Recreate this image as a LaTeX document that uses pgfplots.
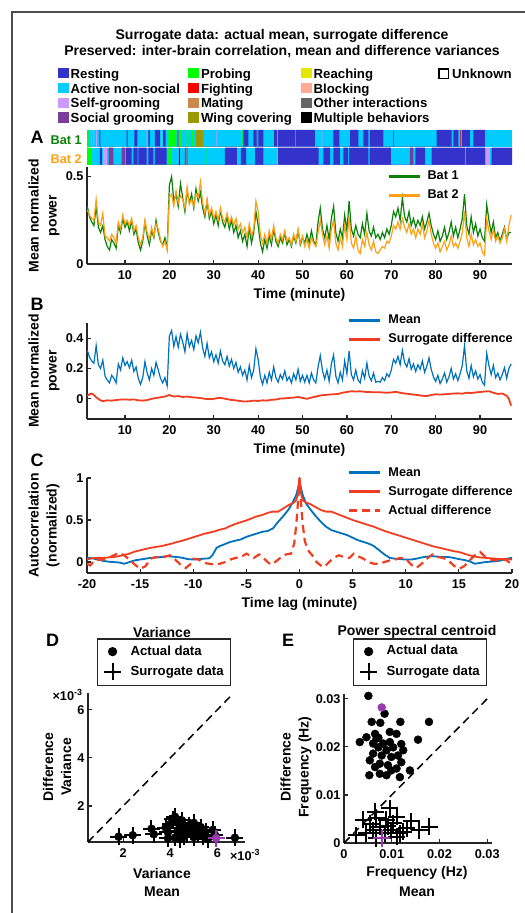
\documentclass[border=0pt]{standalone}
\usepackage{pgfplots}
\pgfplotsset{compat=1.18}
\usepackage{pgfplotstable}
\usepackage{fontspec}
\setmainfont{Liberation Sans}

\definecolor{resting}{RGB}{51,51,204}
\definecolor{activens}{RGB}{0,204,255}
\definecolor{selfgroom}{RGB}{204,153,255}
\definecolor{socialgroom}{RGB}{122,61,153}
\definecolor{probing}{RGB}{0,255,0}
\definecolor{fighting}{RGB}{255,0,0}
\definecolor{mating}{RGB}{204,136,77}
\definecolor{wingcov}{RGB}{153,153,0}
\definecolor{reaching}{RGB}{230,230,0}
\definecolor{blocking}{RGB}{255,170,150}
\definecolor{otherint}{RGB}{102,102,102}
\definecolor{batgreen}{RGB}{10,130,10}
\definecolor{batorange}{RGB}{255,160,20}
\definecolor{meanblue}{RGB}{0,114,189}
\definecolor{surred}{RGB}{242,62,32}
\definecolor{purp}{RGB}{150,60,175}

\newcommand\ftitle{\bfseries\fontsize{14bp}{17bp}\selectfont}
\newcommand\flab{\bfseries\fontsize{14bp}{18bp}\selectfont}
\newcommand\fleg{\bfseries\fontsize{12.7bp}{15bp}\selectfont}
\newcommand\fbeh{\bfseries\fontsize{13.2bp}{15bp}\selectfont}
\newcommand\ftick{\bfseries\fontsize{12.7bp}{15bp}\selectfont}
\newcommand\fletter{\bfseries\fontsize{18bp}{20bp}\selectfont}

\pgfplotsset{
  mstyle/.style={
    scale only axis,
    axis x line*=bottom, axis y line*=left,
    axis line style={line width=1.5bp, black!85, -},
    tick style={line width=1.2bp, black!85},
    major tick length=4bp,
    tick align=inside,
    tick label style={font=\ftick},
    /pgf/number format/assume math mode=true,
    xticklabel style={yshift=-3bp},
    scaled ticks=false,
  },
  lineleg/.style={
    legend style={draw=none, fill=none, inner sep=0pt, outer sep=0pt, row sep=4.2bp, column sep=5bp,
      nodes={inner sep=1.5bp, text height=9.2bp, text depth=2.6bp, font=\fleg}},
    legend cell align=left,
    legend image code/.code={\draw[##1,line width=3bp] (0bp,0bp) -- (31bp,0bp);},
  },
  markleg/.style={
    legend style={draw=black!85, line width=1.2bp, fill=white, inner sep=5bp, row sep=4.2bp, column sep=4.5bp,
      nodes={inner sep=1.5bp, text height=9.4bp, text depth=2.7bp, font=\fbeh}},
    legend cell align=left,
    legend image code/.code={\path[draw=none,fill=none] (0bp,-5bp) rectangle (22bp,5bp); \draw[##1] plot coordinates {(10bp,0bp)};},
  },
  plusmk/.style={only marks, mark=+, mark size=8.5bp, mark options={line width=2bp}},
  dotmk/.style={only marks, mark=*, mark size=4bp},
}

\pgfplotstableread{
t b1 b2 m
1.5 0.33 0.31 0.32
2.0 0.27 0.28 0.275
2.5 0.24 0.26 0.25
3.0 0.22 0.25 0.235
3.5 0.33 0.37 0.35
4.0 0.21 0.24 0.225
4.5 0.18 0.22 0.20
5.0 0.22 0.29 0.255
5.5 0.14 0.16 0.15
6.0 0.10 0.15 0.125
6.5 0.08 0.13 0.105
7.0 0.14 0.17 0.155
7.5 0.12 0.15 0.135
8.0 0.09 0.12 0.105
8.5 0.22 0.24 0.23
9.0 0.18 0.20 0.19
9.5 0.26 0.28 0.27
10.0 0.21 0.23 0.22
10.5 0.24 0.25 0.245
11.0 0.19 0.22 0.205
11.5 0.25 0.26 0.255
12.0 0.17 0.19 0.18
12.5 0.20 0.22 0.21
13.0 0.12 0.15 0.135
13.5 0.08 0.11 0.095
14.0 0.13 0.15 0.14
14.5 0.24 0.25 0.245
15.0 0.16 0.18 0.17
15.5 0.11 0.14 0.125
16.0 0.19 0.21 0.20
16.5 0.15 0.16 0.155
17.0 0.25 0.23 0.24
17.5 0.18 0.20 0.19
18.0 0.13 0.14 0.135
18.5 0.11 0.10 0.105
19.0 0.15 0.13 0.14
19.5 0.09 0.08 0.085
20.0 0.45 0.38 0.415
20.5 0.50 0.40 0.45
21.0 0.36 0.33 0.345
21.5 0.40 0.42 0.41
22.0 0.33 0.35 0.34
22.5 0.46 0.39 0.425
23.0 0.38 0.37 0.375
23.5 0.30 0.32 0.31
24.0 0.42 0.44 0.43
24.5 0.35 0.34 0.345
25.0 0.40 0.37 0.385
25.5 0.32 0.33 0.325
26.0 0.43 0.40 0.415
26.5 0.36 0.38 0.37
27.0 0.41 0.47 0.44
27.5 0.32 0.35 0.335
28.0 0.27 0.29 0.28
28.5 0.36 0.37 0.365
29.0 0.26 0.28 0.27
29.5 0.30 0.32 0.31
30.0 0.23 0.26 0.245
30.5 0.28 0.30 0.29
31.0 0.22 0.25 0.235
31.5 0.31 0.32 0.315
32.0 0.24 0.26 0.25
32.5 0.21 0.24 0.225
33.0 0.27 0.29 0.28
33.5 0.20 0.23 0.215
34.0 0.25 0.27 0.26
34.5 0.18 0.22 0.20
35.0 0.22 0.26 0.24
35.5 0.15 0.20 0.175
36.0 0.19 0.23 0.21
36.5 0.13 0.18 0.155
37.0 0.17 0.21 0.19
37.5 0.10 0.15 0.125
38.0 0.21 0.23 0.22
38.5 0.12 0.16 0.14
39.0 0.18 0.20 0.19
39.5 0.30 0.36 0.33
40.0 0.22 0.30 0.26
40.5 0.12 0.17 0.145
41.0 0.07 0.12 0.095
41.5 0.14 0.17 0.155
42.0 0.09 0.12 0.105
42.5 0.16 0.19 0.175
43.0 0.11 0.14 0.125
43.5 0.20 0.22 0.21
44.0 0.13 0.15 0.14
44.5 0.10 0.12 0.11
45.0 0.15 0.17 0.16
45.5 0.12 0.14 0.13
46.0 0.18 0.19 0.185
46.5 0.11 0.13 0.12
47.0 0.14 0.15 0.145
47.5 0.10 0.11 0.105
48.0 0.16 0.17 0.165
48.5 0.12 0.13 0.125
49.0 0.19 0.20 0.195
49.5 0.11 0.12 0.115
50.0 0.15 0.16 0.155
50.5 0.12 0.10 0.11
51.0 0.17 0.14 0.155
51.5 0.12 0.09 0.105
52.0 0.19 0.15 0.17
52.5 0.13 0.12 0.125
53.0 0.11 0.10 0.105
53.5 0.24 0.18 0.21
54.0 0.32 0.25 0.285
54.5 0.20 0.17 0.185
55.0 0.15 0.11 0.13
55.5 0.22 0.16 0.19
56.0 0.14 0.09 0.115
56.5 0.26 0.20 0.23
57.0 0.33 0.25 0.29
57.5 0.18 0.12 0.15
58.0 0.13 0.08 0.105
58.5 0.20 0.15 0.175
59.0 0.15 0.10 0.125
59.5 0.28 0.22 0.25
60.0 0.19 0.14 0.165
60.5 0.36 0.27 0.315
61.0 0.20 0.12 0.16
61.5 0.16 0.09 0.125
62.0 0.22 0.16 0.19
62.5 0.17 0.08 0.125
63.0 0.15 0.06 0.105
63.5 0.23 0.14 0.185
64.0 0.17 0.10 0.135
64.5 0.29 0.18 0.235
65.0 0.19 0.11 0.15
65.5 0.16 0.08 0.12
66.0 0.21 0.13 0.17
66.5 0.15 0.07 0.11
67.0 0.17 0.06 0.115
67.5 0.14 0.08 0.11
68.0 0.18 0.10 0.14
68.5 0.15 0.09 0.12
69.0 0.20 0.13 0.165
69.5 0.17 0.12 0.145
70.0 0.22 0.16 0.19
70.5 0.30 0.22 0.26
71.0 0.27 0.20 0.235
71.5 0.32 0.24 0.28
72.0 0.25 0.20 0.225
72.5 0.38 0.26 0.32
73.0 0.27 0.21 0.24
73.5 0.24 0.18 0.21
74.0 0.30 0.23 0.265
74.5 0.22 0.17 0.195
75.0 0.26 0.20 0.23
75.5 0.21 0.15 0.18
76.0 0.25 0.20 0.225
76.5 0.22 0.17 0.195
77.0 0.27 0.23 0.25
77.5 0.20 0.15 0.175
78.0 0.24 0.19 0.215
78.5 0.29 0.25 0.27
79.0 0.22 0.17 0.195
79.5 0.17 0.12 0.145
80.0 0.14 0.09 0.115
80.5 0.19 0.12 0.155
81.0 0.13 0.07 0.10
81.5 0.16 0.10 0.13
82.0 0.21 0.13 0.17
82.5 0.14 0.08 0.11
83.0 0.18 0.11 0.145
83.5 0.24 0.16 0.20
84.0 0.16 0.10 0.13
84.5 0.21 0.12 0.165
85.0 0.15 0.09 0.12
85.5 0.20 0.13 0.165
86.0 0.26 0.18 0.22
86.5 0.40 0.30 0.35
87.0 0.22 0.15 0.185
87.5 0.17 0.10 0.135
88.0 0.27 0.17 0.22
88.5 0.18 0.11 0.145
89.0 0.23 0.14 0.185
89.5 0.16 0.10 0.13
90.0 0.20 0.12 0.16
90.5 0.15 0.07 0.11
91.0 0.13 0.05 0.09
91.5 0.34 0.26 0.30
92.0 0.25 0.19 0.22
92.5 0.18 0.14 0.16
93.0 0.24 0.20 0.22
93.5 0.15 0.13 0.14
94.0 0.18 0.16 0.17
94.5 0.13 0.12 0.125
95.0 0.17 0.15 0.16
95.5 0.21 0.20 0.205
96.0 0.14 0.13 0.135
96.5 0.18 0.22 0.20
97.0 0.18 0.28 0.23
}\tabA

\begin{document}
\begin{tikzpicture}[x=1bp,y=1bp]
\useasboundingbox (0,0) rectangle (525,913);
\fill[white] (0,0) rectangle (525,913);
\draw[line width=1.3bp, black!70] (12,-5) -- (12,901) -- (530,901);

% titles
\node[font=\ftitle] at (282,877) {Surrogate data: actual mean, surrogate difference};
\node[font=\ftitle] at (282,861) {Preserved: inter-brain correlation, mean and difference variances};

% behaviour legend
\newcommand\legsq[4]{\fill[#3] (#1,#2-5.2) rectangle ++(10.5,10.5); \node[anchor=base west, font=\fbeh, inner sep=0] at (#1+12.5,#2-5) {#4};}
\legsq{58}{839.7}{resting}{Resting}
\legsq{58}{824.7}{activens}{Active non-social}
\legsq{58}{810}{selfgroom}{Self-grooming}
\legsq{58}{795.3}{socialgroom}{Social grooming}
\legsq{188.3}{839.7}{probing}{Probing}
\legsq{188.3}{824.7}{fighting}{Fighting}
\legsq{188.3}{810}{mating}{Mating}
\legsq{188.3}{795.3}{wingcov}{Wing covering}
\legsq{301}{839.7}{reaching}{Reaching}
\legsq{301}{824.7}{blocking}{Blocking}
\legsq{301}{810}{otherint}{Other interactions}
\legsq{301}{795.3}{black}{Multiple behaviors}
\draw[line width=1.5bp, black] (439,834.5) rectangle ++(9.5,9.5);
\node[anchor=base west, font=\fbeh, inner sep=0] at (452,834.7) {Unknown};

% bat labels and panel letters
\node[anchor=east, font=\fleg, text=batgreen, inner sep=0] at (82,772.5) {Bat 1};
\node[anchor=east, font=\fleg, text=batorange, inner sep=0] at (82,754.3) {Bat 2};
\node[font=\fletter] at (37,775.8) {A};
\node[font=\fletter] at (37,609) {B};
\node[font=\fletter] at (37,452.5) {C};
\node[font=\fletter] at (52.5,272.2) {D};
\node[font=\fletter] at (288,272.2) {E};

% behaviour rasters
\begin{axis}[at={(87bp,766.3bp)}, anchor=south west, scale only axis, width=425bp, height=16.7bp,
  xmin=1.44, xmax=97.2, ymin=0, ymax=1, hide axis]
\addplot[ybar interval, fill=activens, draw=none] coordinates {(1.44,1) (97.2,0)};
\addplot[ybar interval, fill=resting, draw=none] coordinates {(4.22,1) (4.45,0) (10.37,1) (10.6,0) (12.1,1) (12.77,0) (15.25,1) (15.63,0) (16.75,1) (17.87,0) (18.6,1) (19.15,0) (36.66,1) (37.8,0) (38.9,1) (39.66,0) (40.03,1) (41.16,0) (43.6,1) (44.2,0) (44.5,1) (48.3,0) (48.45,1) (52.8,0) (56.95,1) (58.3,0) (60.7,1) (62.6,0) (63.7,1) (64.85,0) (65.2,1) (68.2,0) (80.2,1) (83.6,0) (84,1) (85.1,0) (85.9,1) (87.7,0) (88.5,1) (91.1,0)};
\addplot[ybar interval, fill=probing, draw=none] coordinates {(1.44,1) (1.83,0) (8.25,1) (8.4,0) (19.76,1) (21.6,0) (22.2,1) (22.8,0) (23.9,1) (24.3,0) (25,1) (25.4,0) (36.3,1) (36.5,0) (43.3,1) (43.5,0)};
\addplot[ybar interval, fill=fighting, draw=none] coordinates {(21.87,1) (22.05,0) (39.7,1) (39.85,0) (85.5,1) (85.65,0)};
\addplot[ybar interval, fill=selfgroom, draw=none] coordinates {(2.3,1) (2.45,0) (2.85,1) (3.0,0) (3.5,1) (3.65,0) (14.9,1) (15.05,0) (18.2,1) (18.35,0) (30.6,1) (30.75,0) (54.3,1) (54.45,0)};
\addplot[ybar interval, fill=socialgroom, draw=none] coordinates {(70.3,1) (70.45,0)};
\addplot[ybar interval, fill=wingcov, draw=none] coordinates {(26.1,1) (27.5,0)};
\end{axis}
\begin{axis}[at={(87bp,748bp)}, anchor=south west, scale only axis, width=425bp, height=17.3bp,
  xmin=1.44, xmax=97.2, ymin=0, ymax=1, hide axis]
\addplot[ybar interval, fill=activens, draw=none] coordinates {(1.44,1) (97.2,0)};
\addplot[ybar interval, fill=resting, draw=none] coordinates {(4.36,1) (4.8,0) (10.2,1) (11.5,0) (11.88,1) (12.85,0) (13.0,1) (14.9,0) (15.25,1) (16.4,0) (16.75,1) (19.4,0) (32.5,1) (35.2,0) (36.1,1) (37.3,0) (39.3,1) (41.16,0) (44.5,1) (53.6,0) (54.7,1) (56.2,0) (56.95,1) (58.4,0) (59.2,1) (60.3,0) (60.5,1) (64.85,0) (65.1,1) (69.9,0) (75.4,1) (77.6,0) (79.1,1) (86.6,0) (86.8,1) (91.1,0) (92.6,1) (97.2,0)};
\addplot[ybar interval, fill=probing, draw=none] coordinates {(1.44,1) (2.5,0) (19.76,1) (20.5,0) (28.4,1) (28.55,0)};
\addplot[ybar interval, fill=selfgroom, draw=none] coordinates {(5.1,1) (6.0,0) (44.2,1) (44.4,0) (91.3,1) (92.2,0)};
\addplot[ybar interval, fill=socialgroom, draw=none] coordinates {(6.3,1) (7.4,0) (9.25,1) (10.0,0) (74.2,1) (75.0,0)};
\addplot[ybar interval, fill=black, draw=none] coordinates {(22.2,1) (22.5,0)};
\addplot[ybar interval, fill=fighting, draw=none] coordinates {(23.5,1) (23.65,0) (23.9,1) (24.05,0)};
\end{axis}

% Panel A
\begin{axis}[mstyle, lineleg, at={(87bp,649bp)}, anchor=south west, width=425bp, height=97bp,
  xmin=1.44, xmax=97.2, ymin=0, ymax=0.555, xtick={10,20,...,90}, ytick={0,0.5},
  legend style={at={(0.706,0.98)}, anchor=north west}]
\addplot[batgreen, line width=1.2bp] table[x=t,y=b1]{\tabA};
\addplot[batorange, line width=1.2bp] table[x=t,y=b2]{\tabA};
\legend{Bat 1, Bat 2}
\end{axis}
\node[font=\flab] at (299.5,618) {Time (minute)};
\node[font=\flab, rotate=90, align=center] at (44,697.5) {Mean normalized\\power};

% Panel B
\begin{axis}[mstyle, lineleg, at={(87bp,494bp)}, anchor=south west, width=425bp, height=96bp,
  xmin=1.44, xmax=97.2, ymin=-0.133, ymax=0.5, xtick={10,20,...,90}, ytick={0,0.2,0.4},
  legend style={at={(0.614,1.106)}, anchor=north west}]
\addplot[meanblue, line width=1.2bp] table[x=t,y=m]{\tabA};
\addplot[surred, line width=1.8bp] coordinates {(1.5,0.02) (2.0,0.03) (2.5,0.035) (3.0,0.025) (3.5,0.01) (4.0,0.0) (4.5,-0.01) (5.0,-0.015) (6,-0.01) (7,-0.012) (8,-0.008) (9,-0.005) (10,-0.004) (11,-0.006) (12,-0.004) (13,-0.01) (14,-0.012) (15,-0.008) (16,0.0) (17,0.005) (18,0.01) (19,0.015) (20,0.025) (21,0.015) (22,0.018) (23,0.012) (24,0.015) (25,0.01) (26,0.008) (27,0.005) (28,0.0) (29,-0.002) (30,0.0) (31,0.006) (32,0.004) (33,-0.002) (34,-0.008) (35,-0.01) (36,-0.015) (37,-0.018) (38,-0.016) (39,-0.012) (40,-0.014) (41,-0.01) (42,-0.012) (43,-0.006) (44,-0.005) (45,0.002) (46,0.003) (47,0.006) (48,0.008) (49,0.012) (50,0.006) (51,0.0) (52,0.008) (53,0.015) (54,0.022) (55,0.025) (56,0.028) (57,0.03) (58,0.032) (59,0.04) (60,0.045) (61,0.05) (62,0.048) (63,0.05) (64,0.046) (65,0.045) (66,0.043) (67,0.044) (68,0.042) (69,0.04) (70,0.042) (71,0.046) (72,0.04) (73,0.035) (74,0.032) (75,0.028) (76,0.025) (77,0.02) (78,0.018) (79,0.025) (80,0.03) (81,0.028) (82,0.03) (83,0.032) (84,0.035) (85,0.036) (86,0.034) (87,0.04) (88,0.038) (89,0.042) (90,0.045) (91,0.048) (92,0.05) (93,0.04) (94,0.032) (95,0.035) (96,0.02) (96.5,0.0) (97,-0.045)};
\legend{Mean, Surrogate difference}
\end{axis}
\node[font=\flab] at (299.5,463) {Time (minute)};
\node[font=\flab, rotate=90, align=center] at (44,542) {Mean normalized\\power};

% Panel C
\begin{axis}[mstyle, lineleg, at={(87bp,340bp)}, anchor=south west, width=425bp, height=95bp,
  xmin=-20, xmax=20, ymin=-0.13, ymax=1, xtick={-20,-15,...,20}, ytick={0,0.5,1},
  legend style={at={(0.614,1.133)}, anchor=north west}]
\addplot[meanblue, line width=1.8bp] coordinates {(-20,0.05) (-19.5,0.045) (-19,0.03) (-18.5,0.015) (-18,0.005) (-17.5,0.0) (-17,-0.005) (-16.5,-0.02) (-16,0.0) (-15.5,0.02) (-15,0.03) (-14.5,0.04) (-14,0.05) (-13.5,0.055) (-13,0.06) (-12.5,0.07) (-12,0.065) (-11.5,0.06) (-11,0.05) (-10.5,0.035) (-10,0.03) (-9.5,0.035) (-9,0.04) (-8.5,0.045) (-8.2,0.08) (-7.8,0.17) (-7.5,0.19) (-7,0.215) (-6.5,0.24) (-6,0.255) (-5.5,0.27) (-5,0.3) (-4.5,0.32) (-4,0.34) (-3.5,0.36) (-3,0.37) (-2.5,0.4) (-2,0.48) (-1.5,0.55) (-1,0.63) (-0.6,0.72) (-0.3,0.8) (-0.1,0.9) (0,0.98) (0.1,0.9) (0.3,0.8) (0.6,0.7) (1,0.63) (1.5,0.55) (2,0.48) (2.5,0.42) (3,0.38) (3.5,0.36) (4,0.34) (4.5,0.32) (5,0.29) (5.5,0.26) (6,0.24) (6.5,0.22) (7,0.19) (7.5,0.14) (8,0.09) (8.5,0.05) (9,0.04) (9.5,0.035) (10,0.03) (10.5,0.03) (11,0.04) (11.5,0.055) (12,0.065) (12.5,0.07) (13,0.065) (13.5,0.06) (14,0.06) (14.5,0.05) (15,0.035) (15.5,0.025) (16,0.01) (16.5,-0.02) (17,-0.01) (17.5,0.0) (18,0.005) (18.5,0.01) (19,0.02) (19.5,0.04) (20,0.05)};
\addplot[surred, line width=1.8bp] coordinates {(-20,0.03) (-19.5,0.045) (-19,0.05) (-18.5,0.05) (-18,0.055) (-17.5,0.06) (-17,0.07) (-16.5,0.085) (-16,0.1) (-15.5,0.125) (-15,0.14) (-14.5,0.155) (-14,0.17) (-13.5,0.18) (-13,0.19) (-12.5,0.205) (-12,0.22) (-11.5,0.24) (-11,0.255) (-10.5,0.275) (-10,0.295) (-9.5,0.315) (-9,0.335) (-8.5,0.35) (-8,0.365) (-7.5,0.385) (-7,0.4) (-6.5,0.43) (-6,0.455) (-5.5,0.475) (-5,0.495) (-4.5,0.52) (-4,0.545) (-3.5,0.56) (-3,0.585) (-2.5,0.6) (-2,0.6) (-1.5,0.64) (-1,0.68) (-0.6,0.7) (-0.35,0.73) (-0.2,0.78) (-0.1,0.86) (0,1) (0.1,0.86) (0.2,0.78) (0.35,0.73) (0.6,0.71) (1,0.69) (1.5,0.655) (2,0.62) (2.5,0.6) (3,0.6) (3.5,0.575) (4,0.55) (4.5,0.525) (5,0.5) (5.5,0.48) (6,0.46) (6.5,0.44) (7,0.42) (7.5,0.395) (8,0.37) (8.5,0.35) (9,0.33) (9.5,0.31) (10,0.29) (10.5,0.27) (11,0.25) (11.5,0.23) (12,0.21) (12.5,0.19) (13,0.175) (13.5,0.16) (14,0.145) (14.5,0.13) (15,0.12) (15.5,0.1) (16,0.08) (16.5,0.065) (17,0.055) (17.5,0.05) (18,0.045) (18.5,0.04) (19,0.035) (19.5,0.035) (20,0.03)};
\addplot[surred, line width=2.2bp, dash pattern=on 8bp off 5bp] coordinates {(-20,-0.02) (-19.7,-0.04) (-19.3,0.02) (-18.5,0.03) (-17.8,0.06) (-17,0.11) (-16.5,0.08) (-16,0.03) (-15.5,-0.03) (-15,-0.08) (-14.5,-0.05) (-14,0.04) (-13.5,0.06) (-13,0.05) (-12.5,0.07) (-12.2,0.08) (-11.7,0.03) (-11.2,-0.03) (-10.7,-0.07) (-10.3,-0.03) (-10,0.04) (-9.5,0.03) (-9,-0.01) (-8.5,-0.02) (-8,-0.03) (-7.5,-0.02) (-7,0.0) (-6.5,0.03) (-6,0.05) (-5.5,0.06) (-5,0.1) (-4.7,0.08) (-4.3,0.05) (-3.8,0.09) (-3.4,0.05) (-3,0.0) (-2.7,-0.03) (-2.3,0.0) (-1.8,0.05) (-1.3,0.09) (-0.8,0.1) (-0.5,0.22) (-0.3,0.45) (-0.15,0.7) (0,1.0) (0.15,0.7) (0.3,0.45) (0.5,0.25) (0.8,0.14) (1.2,0.08) (1.6,0.0) (2.0,-0.04) (2.3,-0.06) (2.7,-0.01) (3.2,0.05) (3.7,0.08) (4.2,0.06) (4.7,0.05) (5.1,0.1) (5.5,0.07) (6,0.04) (6.5,0.0) (7,-0.02) (7.5,-0.02) (8,0.0) (8.5,0.02) (9,0.03) (9.5,0.05) (10,0.04) (10.5,-0.03) (11,-0.07) (11.5,-0.02) (12,0.04) (12.5,0.09) (13,0.06) (13.5,0.05) (14,0.02) (14.5,-0.04) (15,-0.08) (15.5,-0.05) (16,0.02) (16.5,0.08) (17,0.12) (17.5,0.06) (18,0.03) (18.5,0.02) (19,0.04) (19.5,0.02) (20,-0.03)};
\legend{Mean, Surrogate difference, Actual difference}
\end{axis}
\node[font=\flab] at (299.5,309) {Time lag (minute)};
\node[font=\flab, rotate=90, align=center] at (44,387.5) {Autocorrelation\\(normalized)};

% Panel D
\begin{axis}[mstyle, markleg, at={(88bp,71bp)}, anchor=south west, width=157.5bp, height=149bp,
  xmin=0.5, xmax=7.2, ymin=0.5, ymax=6.7, xtick={2,4,6}, ytick={2,4,6}, clip=false,
  legend style={at={(0.057,1.047)}, anchor=south west}]
\addplot[dotmk, black] coordinates {(1.8,0.72) (2.4,0.78) (3.2,1.05) (3.3,0.82) (3.8,1.1) (3.9,0.9) (3.9,0.65) (4.0,1.25) (4.1,1.45) (4.2,1.55) (4.2,0.68) (4.3,1.3) (4.3,0.95) (4.4,1.2) (4.4,0.62) (4.5,1.1) (4.5,1.4) (4.6,0.72) (4.6,1.0) (4.7,0.82) (4.8,1.2) (4.9,0.92) (5.0,1.3) (5.0,0.7) (5.1,1.0) (5.2,0.85) (5.3,1.12) (5.4,0.72) (5.5,0.92) (5.6,0.62) (5.8,1.0) (5.9,0.8) (6.75,0.68)};
\addplot[plusmk, black] coordinates {(1.8,0.72) (2.4,0.78) (3.2,1.05) (3.3,0.82) (3.8,1.1) (3.9,0.9) (3.9,0.65) (4.0,1.25) (4.1,1.45) (4.2,1.55) (4.2,0.68) (4.3,1.3) (4.3,0.95) (4.4,1.2) (4.4,0.62) (4.5,1.1) (4.5,1.4) (4.6,0.72) (4.6,1.0) (4.7,0.82) (4.8,1.2) (4.9,0.92) (5.0,1.3) (5.0,0.7) (5.1,1.0) (5.2,0.85) (5.3,1.12) (5.4,0.72) (5.5,0.92) (5.6,0.62) (5.8,1.0) (5.9,0.8) (6.75,0.68)};
\addplot[forget plot, black, line width=1.5bp, dash pattern=on 8bp off 5bp] coordinates {(0.5,0.5) (6.65,6.65)};
\addplot[forget plot, plusmk, purp] coordinates {(5.95,0.66)};
\addplot[forget plot, dotmk, purp] coordinates {(5.95,0.66)};
\legend{Actual data, Surrogate data}
\end{axis}
\node[font=\ftitle] at (162,281) {Variance};
\node[font=\fleg] at (67.5,218) {×10\textsuperscript{-3}};
\node[font=\fleg] at (245,58) {×10\textsuperscript{-3}};
\node[font=\flab, rotate=90, align=center] at (57,146) {Difference\\Variance};
\node[font=\flab] at (162,40) {Variance};
\node[font=\flab] at (162,21) {Mean};

% Panel E
\begin{axis}[mstyle, markleg, at={(344bp,70bp)}, anchor=south west, width=148bp, height=149bp,
  xmin=0, xmax=0.031, ymin=0, ymax=0.031, xtick={0,0.01,0.02,0.03}, ytick={0,0.01,0.02,0.03},
  xticklabels={0,0.01,0.02,0.03}, yticklabels={0,0.01,0.02,0.03}, clip=false,
  legend style={at={(0.061,1.054)}, anchor=south west}]
\addplot[dotmk, black] coordinates {(0.0051,0.0306) (0.0085,0.0269) (0.0058,0.0252) (0.0076,0.0250) (0.0118,0.0252) (0.0178,0.0252) (0.0033,0.0210) (0.0047,0.0220) (0.0065,0.0227) (0.0068,0.0217) (0.0096,0.0231) (0.0110,0.0227) (0.0096,0.0210) (0.0120,0.0206) (0.0155,0.0215) (0.0072,0.0199) (0.0089,0.0193) (0.0103,0.0199) (0.0079,0.0182) (0.0054,0.0172) (0.0099,0.0179) (0.0120,0.0168) (0.0075,0.0165) (0.0065,0.0158) (0.0092,0.0162) (0.0110,0.0155) (0.0138,0.0151) (0.0053,0.0141) (0.0075,0.0144) (0.0089,0.0141) (0.0117,0.0137) (0.0072,0.0219) (0.0082,0.0207) (0.0061,0.0186) (0.0113,0.0182) (0.0124,0.0193) (0.0099,0.0151) (0.0061,0.0207)};
\addplot[plusmk, black] coordinates {(0.0065,0.0065) (0.0096,0.0072) (0.0040,0.0048) (0.0068,0.0051) (0.0089,0.0048) (0.0110,0.0055) (0.0141,0.0045) (0.0179,0.0034) (0.0158,0.0027) (0.0026,0.0016) (0.0061,0.0027) (0.0075,0.0034) (0.0099,0.0027) (0.0117,0.0020) (0.0131,0.0031) (0.0047,0.0020) (0.0085,0.0020) (0.0103,0.0041) (0.0124,0.0023) (0.0068,0.0010) (0.0110,0.0013) (0.0055,0.0040) (0.0092,0.0035)};
\addplot[forget plot, black, line width=1.5bp, dash pattern=on 8bp off 5bp] coordinates {(0,0) (0.0305,0.0305)};
\addplot[forget plot, plusmk, purp] coordinates {(0.0079,0.0010)};
\addplot[forget plot, dotmk, purp] coordinates {(0.0079,0.0282)};
\legend{Actual data, Surrogate data}
\end{axis}
\node[font=\ftitle] at (417,281) {Power spectral centroid};
\node[font=\flab, rotate=90, align=center] at (296,146) {Difference\\Frequency (Hz)};
\node[font=\flab] at (417,40) {Frequency (Hz)};
\node[font=\flab] at (417,21) {Mean};
\end{tikzpicture}
\end{document}
